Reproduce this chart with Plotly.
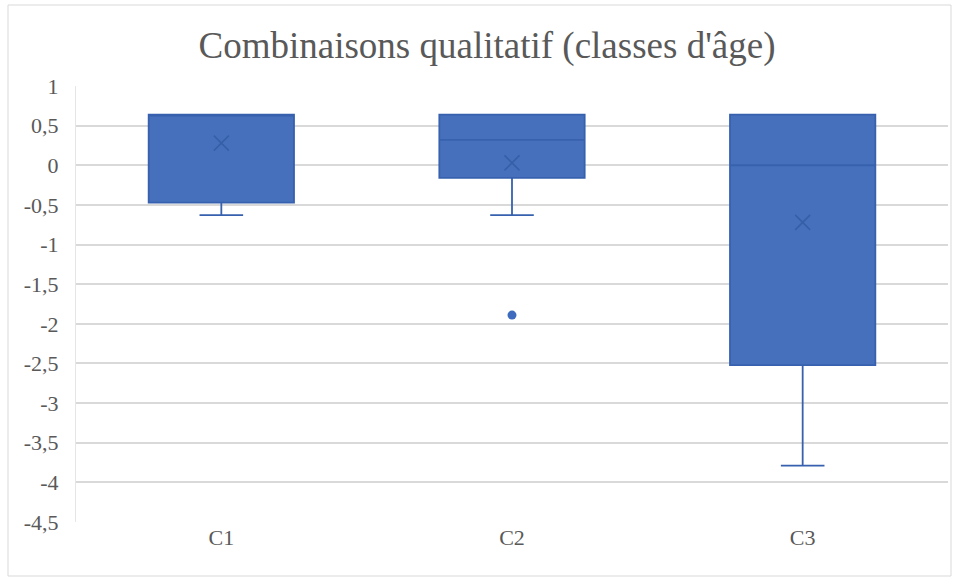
import plotly.graph_objects as go

# Box-and-whisker summary per age class
categories = ["C1", "C2", "C3"]
q1_vals = [-0.47, -0.16, -2.52]
median_vals = [0.64, 0.32, 0.0]
q3_vals = [0.64, 0.64, 0.64]
lower_whisker = [-0.63, -0.63, -3.79]
upper_whisker = [0.64, 0.64, 0.64]
mean_vals = [0.28, 0.03, -0.72]

# Outlying points
outlier_cats = ["C2"]
outlier_vals = [-1.89]

# Y axis ticks (French decimal comma)
tick_values = [1, 0.5, 0, -0.5, -1, -1.5, -2, -2.5, -3, -3.5, -4, -4.5]
tick_labels = ["1", "0,5", "0", "-0,5", "-1", "-1,5", "-2", "-2,5", "-3", "-3,5", "-4", "-4,5"]

W, H = 955, 578
L, R, T, B = 76, 7, 86, 56

fill_blue = "#4670BB"
line_blue = "#3761AE"
text_gray = "#595959"
serif = "Liberation Serif"

fig = go.Figure()

fig.add_trace(go.Box(
    x=categories,
    q1=q1_vals,
    median=median_vals,
    q3=q3_vals,
    lowerfence=lower_whisker,
    upperfence=upper_whisker,
    fillcolor=fill_blue,
    line=dict(color=line_blue, width=1.8),
    whiskerwidth=0.3,
    boxpoints=False,
    hoverinfo="skip",
    showlegend=False,
))

# Mean markers
fig.add_trace(go.Scatter(
    x=categories,
    y=mean_vals,
    mode="markers",
    marker=dict(symbol="x-thin", size=15, line=dict(color="#3560A8", width=1.6)),
    showlegend=False,
    hoverinfo="skip",
))

# Outliers
fig.add_trace(go.Scatter(
    x=outlier_cats,
    y=outlier_vals,
    mode="markers",
    marker=dict(symbol="circle", size=9, color="#3F6BBE"),
    showlegend=False,
    hoverinfo="skip",
))

plot_w = W - L - R
plot_h = H - T - B


def px_to_paper_x(px):
    return (px - L) / plot_w


def px_to_paper_y(py):
    return (H - B - py) / plot_h


# Outer chart frame
fig.add_shape(
    type="rect",
    xref="paper", yref="paper",
    x0=px_to_paper_x(8), x1=px_to_paper_x(951),
    y0=px_to_paper_y(576), y1=px_to_paper_y(5),
    line=dict(color="#D9D9D9", width=1),
    fillcolor="rgba(0,0,0,0)",
    layer="below",
)

fig.update_layout(
    width=W,
    height=H,
    margin=dict(l=L, r=R, t=T, b=B),
    paper_bgcolor="white",
    plot_bgcolor="white",
    boxgap=0.5,
    boxgroupgap=0,
    title=dict(
        text="Combinaisons qualitatif (classes d'âge)",
        font=dict(family=serif, size=37, color=text_gray),
        x=487 / W,
        xref="container",
        xanchor="center",
        y=1 - 45 / H,
        yref="container",
        yanchor="middle",
    ),
    font=dict(family=serif, color=text_gray),
)

fig.update_xaxes(
    type="category",
    showgrid=False,
    zeroline=False,
    showline=False,
    ticks="",
    tickfont=dict(family=serif, size=22, color=text_gray),
)

fig.update_yaxes(
    range=[-4.5, 1],
    tickvals=tick_values,
    ticktext=tick_labels,
    showgrid=True,
    gridcolor="#D9D9D9",
    gridwidth=1.5,
    zeroline=False,
    showline=True,
    linecolor="#E6E6E6",
    linewidth=1,
    ticks="",
    ticklabelstandoff=12,
    tickfont=dict(family=serif, size=22, color=text_gray),
)

fig.write_html("out.html")
